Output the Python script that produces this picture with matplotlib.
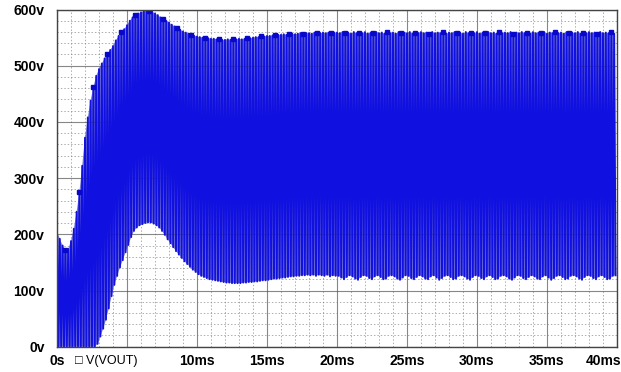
import numpy as np
import matplotlib.pyplot as plt
from matplotlib.ticker import MultipleLocator
import matplotlib.transforms as mtransforms

# switching period of V(VOUT) in ms (one peak + one trough per period)
period_ms = 0.2

# peak voltage of each cycle (V), cycles start at 0, 0.2, 0.4 ... ms
upper_tips = [
    205, 192, 180, 172, 174, 188, 210, 240, 275, 322, 372, 408, 438, 462, 482, 494, 504, 513, 521, 528,
    535, 545, 553, 560, 565, 572, 580, 586, 590, 593, 595, 597, 597, 597, 596, 593, 590, 586, 583, 580,
    577, 573, 570, 567, 564, 561, 559, 557, 555, 553, 552, 551, 550, 549, 549, 548, 548, 547, 547, 546,
    546, 547, 546, 547, 547, 548, 547, 548, 549, 549, 550, 551, 551, 552, 552, 553, 553, 554, 554, 555,
    555, 556, 555, 556, 557, 556, 557, 558, 557, 558, 558, 557, 559, 558, 558, 559, 558, 559, 558, 559,
    559, 558, 560, 558, 559, 557, 560, 558, 559, 558, 560, 557, 559, 558, 560, 558, 559, 557, 560, 558,
    559, 557, 560, 558, 559, 558, 560, 557, 559, 558, 560, 558, 559, 557, 560, 558, 559, 558, 560, 557,
    559, 558, 560, 558, 559, 557, 560, 558, 559, 558, 560, 557, 559, 558, 560, 558, 559, 557, 560, 558,
    559, 558, 560, 557, 559, 558, 560, 558, 559, 557, 560, 558, 559, 558, 560, 557, 559, 558, 560, 558,
    559, 557, 560, 558, 559, 558, 560, 557, 559, 558, 560, 558, 559, 557, 560, 558, 559, 558, 560, 557,
]

# trough voltage of each cycle (V), half a period after each peak
lower_tips = [
    0, 0, 0, 0, 0, 0, 0, 0, 0, 0, 0, 0, 0, 0, 5, 18, 32, 48, 68, 90,
    110, 126, 141, 154, 168, 181, 195, 206, 212, 216, 218, 220, 221, 221, 219, 216, 212, 206, 199, 191,
    184, 177, 170, 164, 158, 152, 147, 142, 137, 133, 129, 126, 124, 122, 120, 119, 118, 117, 116, 115,
    114, 114, 113, 113, 113, 113, 114, 114, 115, 115, 116, 116, 117, 118, 118, 119, 120, 121, 121, 122,
    123, 123, 124, 125, 125, 126, 126, 127, 127, 128, 127, 128, 126, 128, 127, 126, 128, 125, 127, 126,
    126, 123, 120, 124, 127, 125, 121, 119, 124, 127, 126, 122, 120, 125, 127, 124, 120, 121, 126, 127,
    125, 121, 119, 123, 127, 126, 122, 120, 124, 127, 125, 121, 120, 125, 127, 123, 119, 122, 126, 127,
    124, 120, 121, 126, 127, 125, 121, 119, 124, 127, 126, 122, 120, 125, 127, 124, 120, 121, 126, 127,
    125, 121, 119, 123, 127, 126, 122, 120, 124, 127, 125, 121, 120, 125, 127, 123, 119, 122, 126, 127,
    124, 120, 121, 126, 127, 125, 121, 119, 124, 127, 126, 122, 120, 125, 127, 124, 120, 121, 126, 127,
]

x_ticks = [0, 5, 10, 15, 20, 25, 30, 35, 40]
x_labels = ["0s", "", "10ms", "15ms", "20ms", "25ms", "30ms", "35ms", "40ms"]
y_ticks = [0, 100, 200, 300, 400, 500, 600]
y_labels = ["0v", "100v", "200v", "300v", "400v", "500v", "600v"]
trace_name = "V(VOUT)"

plt.rcParams["font.family"] = ["Liberation Sans", "DejaVu Sans"]

fig = plt.figure(figsize=(6.21, 3.72), dpi=100)
ax = fig.add_axes([57 / 621, 25.3 / 372, 560 / 621, 337.2 / 372])

# zigzag: peak, trough, peak, trough ...
n = len(upper_tips)
peak_t = np.arange(n) * period_ms
trough_t = peak_t + period_ms / 2
t = np.empty(2 * n)
v = np.empty(2 * n)
t[0::2] = peak_t
t[1::2] = trough_t
v[0::2] = upper_tips
v[1::2] = lower_tips

# body of the trace: polygon through the peaks and back along the troughs
ax.fill(np.concatenate([peak_t, trough_t[::-1]]),
        np.concatenate([upper_tips, lower_tips[::-1]]),
        color="#7a7ad0", lw=0, zorder=1)
ax.plot(t, v, color="#1010e0", lw=1.35, zorder=2,
        marker="s", markevery=(6, 10), ms=2.5, mfc="#0808c8", mec="#0808c8")

ax.set_xlim(0, 40)
ax.set_ylim(0, 600)

# PSpice style grid
ax.xaxis.set_minor_locator(MultipleLocator(1))
ax.yaxis.set_minor_locator(MultipleLocator(20))
ax.grid(which="major", color="#555555", lw=0.8, ls="-", zorder=3, alpha=0.7)
ax.grid(which="minor", color="#777777", lw=0.7, ls=(0, (1.5, 2)), zorder=3, alpha=0.6)
ax.tick_params(which="both", length=0)

ax.set_xticks(x_ticks)
ax.set_xticklabels(x_labels, fontsize=10, fontweight="bold")
ax.set_yticks(y_ticks)
ax.set_yticklabels(y_labels, fontsize=10, fontweight="bold")
ax.tick_params(axis="x", pad=5)
ax.tick_params(axis="y", pad=9)

# last label sits inside the figure
last = ax.get_xticklabels()[-1]
last.set_horizontalalignment("right")
last.set_transform(last.get_transform() + mtransforms.ScaledTranslation(3 / 72, 0, fig.dpi_scale_trans))

for s in ax.spines.values():
    s.set_color("#444444")
    s.set_linewidth(1.0)

# trace legend under the x axis
ax.text(1.3, -0.025, "\u25a1 " + trace_name, transform=ax.get_xaxis_transform(),
        ha="left", va="top", fontsize=9, family=["Liberation Sans", "DejaVu Sans"])

plt.savefig("out.png", dpi=100)
